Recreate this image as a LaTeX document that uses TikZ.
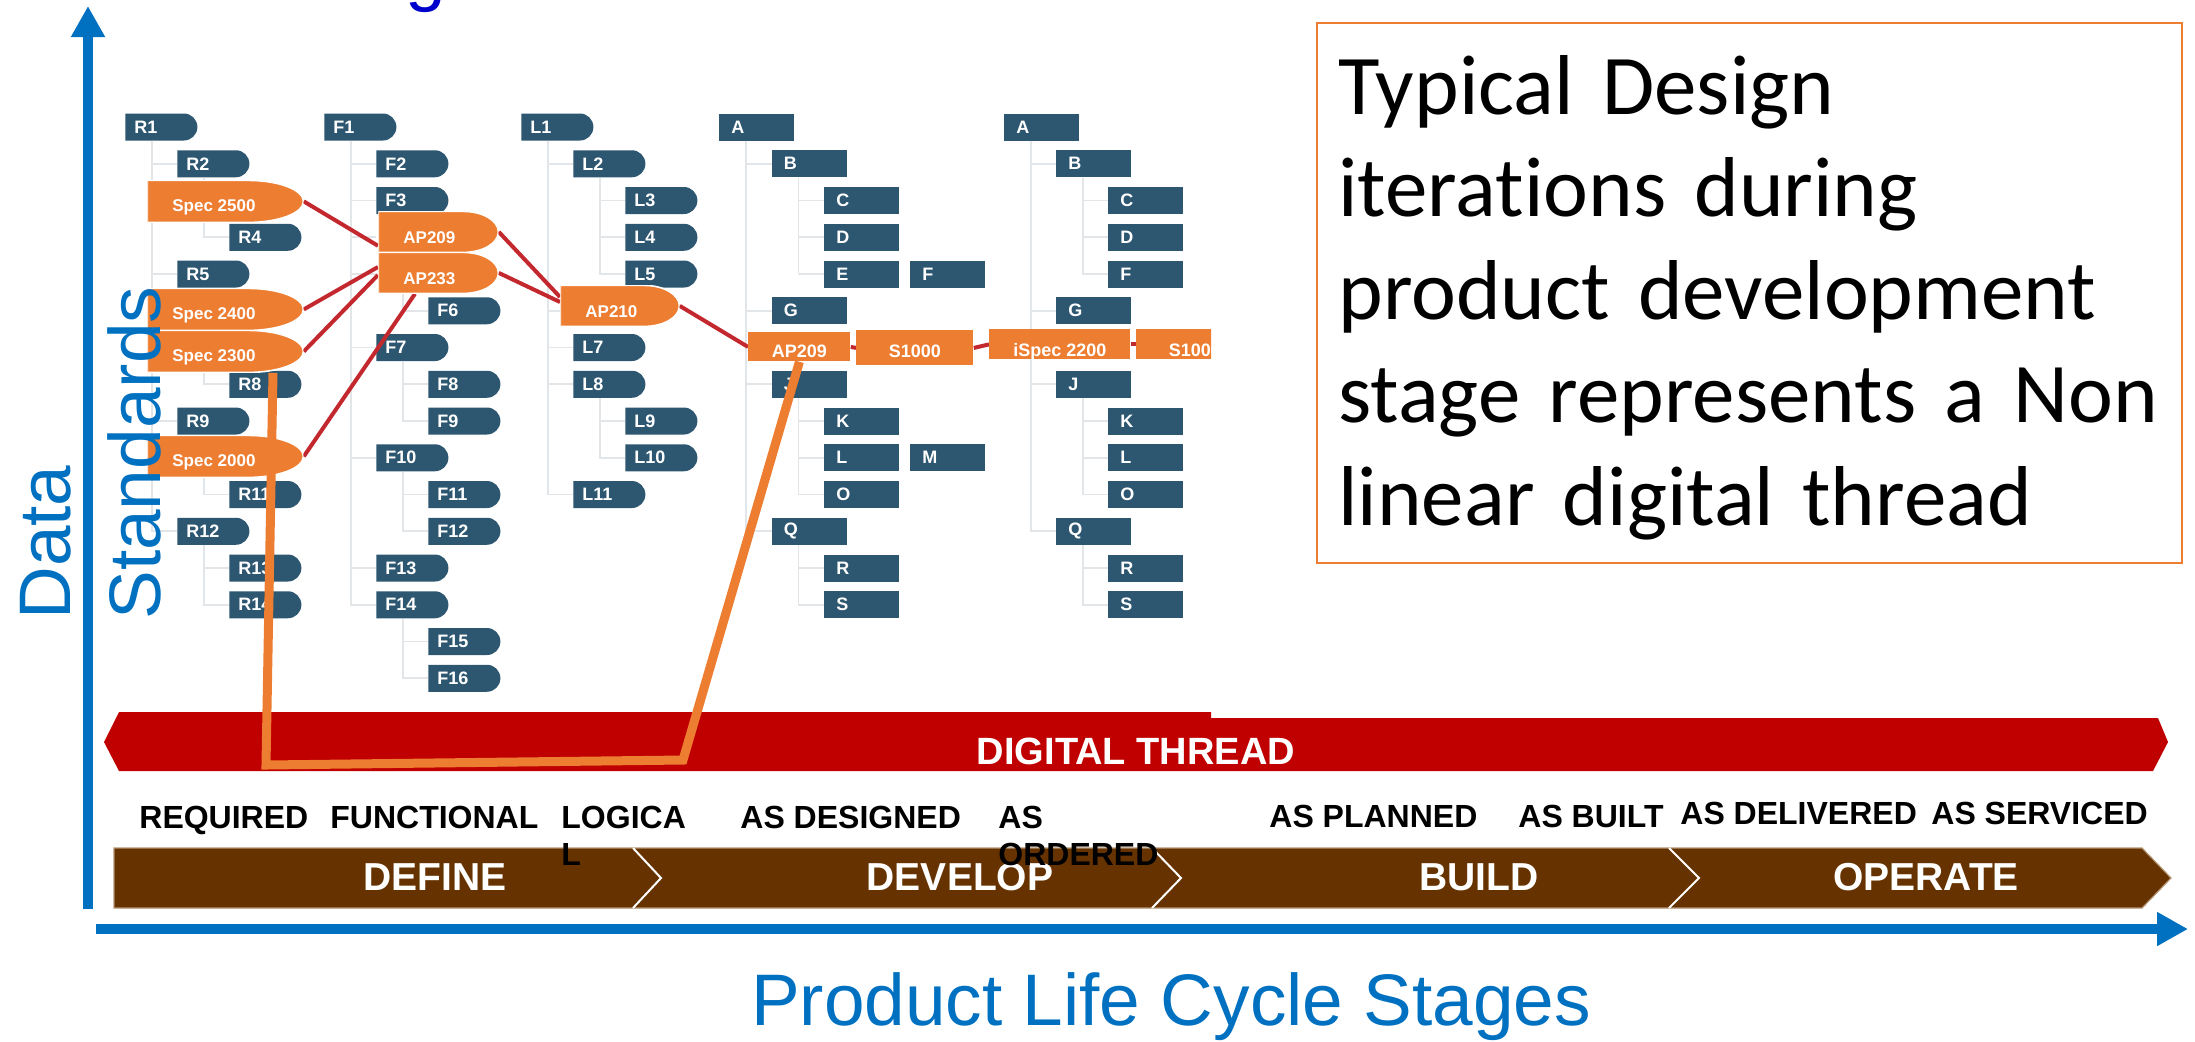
\documentclass[tikz,border=0pt]{standalone}
\usepackage{fontspec}
\setmainfont{Liberation Sans}
\newfontfamily\notefont[Ligatures=NoCommon, Contextuals=NoAlternate]{Carlito}
\usetikzlibrary{arrows.meta}

\definecolor{axisblue}{HTML}{0070C0}
\definecolor{titleblue}{HTML}{0000CC}
\definecolor{specorange}{HTML}{ED7D31}
\definecolor{treeblue}{HTML}{2D5670}
\definecolor{treeline}{HTML}{E3E6E9}
\definecolor{linkred}{HTML}{C3282E}
\definecolor{threadred}{HTML}{C00000}
\definecolor{phasebrown}{HTML}{663300}
\definecolor{phaseedge}{HTML}{B39573}

\pgfdeclarelayer{treelayer}
\pgfdeclarelayer{linklayer}
\pgfsetlayers{treelayer,linklayer,main}

\newcommand\tagtext[1]{\makebox[36pt][l]{\hspace{4.5pt}#1}}
\newcommand\boxtext[1]{\makebox[37.5pt][l]{\hspace{6pt}#1}}

\tikzset{
  tagbox/.style={rectangle, inner sep=0pt, minimum width=36pt, minimum height=13.5pt, anchor=west},
  tagnode/.style={tagbox, text=white, font=\bfseries\fontsize{9}{9}\selectfont,
    path picture={\fill[treeblue]
      (path picture bounding box.south west) -- (path picture bounding box.north west)
      -- ([xshift=-6.75pt]path picture bounding box.north east)
      arc[start angle=90, end angle=-90, radius=6.75pt] -- cycle;}},
  boxnode/.style={rectangle, inner sep=0pt, minimum width=37.5pt, minimum height=13.5pt, anchor=west,
    fill=treeblue, text=white, font=\bfseries\fontsize{9}{9}\selectfont},
  treelink/.style={treeline, line width=0.8pt},
  specnode/.style={rectangle, inner sep=0pt, anchor=north west, text=white,
    font=\bfseries\fontsize{8.5}{8.5}\selectfont, text height=15.5pt, text depth=5.5pt,
    path picture={\fill[specorange, draw=white, line width=0.8pt]
      (path picture bounding box.south west) -- (path picture bounding box.north west)
      -- ([xshift=-27.5pt]path picture bounding box.north east)
      arc[start angle=90, end angle=-90, x radius=27.5pt, y radius=10.5pt] -- cycle;}},
  apnode/.style={rectangle, inner sep=0pt, anchor=north west, text=white,
    font=\bfseries\fontsize{8.5}{8.5}\selectfont, text height=16pt, text depth=4.5pt,
    path picture={\fill[specorange, draw=white, line width=0.8pt]
      (path picture bounding box.south west) -- (path picture bounding box.north west)
      -- ([xshift=-17.5pt]path picture bounding box.north east)
      arc[start angle=90, end angle=-90, x radius=17.5pt, y radius=10.25pt] -- cycle;}},
  stdnode/.style={rectangle, inner sep=0pt, anchor=north west, fill=specorange, text=white,
    font=\bfseries\fontsize{9}{9}\selectfont},
  redlink/.style={linkred, line width=2pt},
  stagelbl/.style={anchor=base west, inner sep=0pt, font=\bfseries\fontsize{16}{18.5}\selectfont},
  phaselbl/.style={anchor=base, inner sep=0pt, text=white, font=\bfseries\fontsize{19.5}{19.5}\selectfont},
  axislbl/.style={inner sep=0pt, text=axisblue, font=\fontsize{36.5}{40}\selectfont},
  axisline/.style={axisblue, line width=5pt, -{Triangle[length=15.5pt, width=16pt]}},
}

\begin{document}
\begin{tikzpicture}[x=0.5pt, y=-0.5pt]
\clip (0,0) rectangle (2195,1041);

% heading, only its descender reaches into the frame
\node[anchor=base west, inner sep=0pt, text=titleblue, font=\fontsize{36.5}{40}\selectfont] (headg) at (405,-3) {g};

% ---------------- structure trees ----------------
\begin{pgfonlayer}{treelayer}
% requirements column
\foreach \r/\l/\t in {1/0/R1, 2/1/R2, 4/2/R4, 5/1/R5, 8/2/R8, 9/1/R9, 11/2/R11, 12/1/R12, 13/2/R13, 14/2/R14}
  \node[tagnode] (rq\r) at ({125+52*\l},{127+36.75*(\r-1)}) {\tagtext{\t}};
\foreach \r/\l in {3/2, 6/2, 7/2, 10/1}
  \node[tagbox] (rq\r) at ({125+52*\l},{127+36.75*(\r-1)}) {};
% functional column
\foreach \r/\l/\t in {1/0/F1, 2/1/F2, 3/1/F3, 6/2/F6, 7/1/F7, 8/2/F8, 9/2/F9, 10/1/F10, 11/2/F11, 12/2/F12, 13/1/F13, 14/1/F14, 15/2/F15, 16/2/F16}
  \node[tagnode] (fn\r) at ({324+52*\l},{127+36.75*(\r-1)}) {\tagtext{\t}};
\foreach \r/\l in {4/1, 5/1}
  \node[tagbox] (fn\r) at ({324+52*\l},{127+36.75*(\r-1)}) {};
% logical column
\foreach \r/\l/\t in {1/0/L1, 2/1/L2, 3/2/L3, 4/2/L4, 5/2/L5, 7/1/L7, 8/1/L8, 9/2/L9, 10/2/L10, 11/1/L11}
  \node[tagnode] (lg\r) at ({521+52*\l},{127+36.75*(\r-1)}) {\tagtext{\t}};
\node[tagbox] (lg6) at (573,{127+36.75*5}) {};
% as designed column
\foreach \r/\l/\t in {1/0/A, 2/1/B, 3/2/C, 4/2/D, 5/2/E, 6/1/G, 8/1/J, 9/2/K, 10/2/L, 11/2/O, 12/1/Q, 13/2/R, 14/2/S}
  \node[boxnode] (ds\r) at ({719+52.5*\l},{127+36.75*(\r-1)}) {\boxtext{\t}};
\node[tagbox] (ds7) at (771.5,{127+36.75*6}) {};
\node[boxnode] (dsF) at (910,{127+36.75*4}) {\boxtext{F}};
\node[boxnode] (dsM) at (910,{127+36.75*9}) {\boxtext{M}};
% as ordered column
\foreach \r/\l/\t in {1/0/A, 2/1/B, 3/2/C, 4/2/D, 5/2/F, 6/1/G, 8/1/J, 9/2/K, 10/2/L, 11/2/O, 12/1/Q, 13/2/R, 14/2/S}
  \node[boxnode] (bt\r) at ({1004+52*\l},{127+36.75*(\r-1)}) {\boxtext{\t}};
\node[tagbox] (bt7) at (1056,{127+36.75*6}) {};
% tree branches
\foreach \c/\p in {rq2/rq1, rq3/rq2, rq4/rq2, rq5/rq1, rq6/rq5, rq7/rq5, rq8/rq5, rq9/rq1, rq10/rq1, rq11/rq10, rq12/rq1, rq13/rq12, rq14/rq12,
    fn2/fn1, fn3/fn1, fn4/fn1, fn5/fn1, fn6/fn5, fn7/fn1, fn8/fn7, fn9/fn7, fn10/fn1, fn11/fn10, fn12/fn10, fn13/fn1, fn14/fn1, fn15/fn14, fn16/fn14,
    lg2/lg1, lg3/lg2, lg4/lg2, lg5/lg2, lg6/lg1, lg7/lg1, lg8/lg1, lg9/lg8, lg10/lg8, lg11/lg1,
    ds2/ds1, ds3/ds2, ds4/ds2, ds5/ds2, ds6/ds1, ds7/ds1, ds8/ds1, ds9/ds8, ds10/ds8, ds11/ds8, ds12/ds1, ds13/ds12, ds14/ds12,
    bt2/bt1, bt3/bt2, bt4/bt2, bt5/bt2, bt6/bt1, bt7/bt1, bt8/bt1, bt9/bt8, bt10/bt8, bt11/bt8, bt12/bt1, bt13/bt12, bt14/bt12}
  \draw[treelink] ([xshift=13.5pt]\p.south west) |- (\c.west);
\end{pgfonlayer}

% ---------------- standards ----------------
\node[specnode] (s2500) at (147,180) {\makebox[78pt][l]{\hspace{12.5pt}Spec 2500}};
\node[specnode] (s2400) at (147,288) {\makebox[78pt][l]{\hspace{12.5pt}Spec 2400}};
\node[specnode] (s2300) at (147,330) {\makebox[78pt][l]{\hspace{12.5pt}Spec 2300}};
\node[specnode] (s2000) at (147,435) {\makebox[78pt][l]{\hspace{12.5pt}Spec 2000}};
\node[apnode] (ap209a) at (378,211) {\makebox[60pt][l]{\hspace{12.5pt}AP209}};
\node[apnode] (ap233) at (378,252) {\makebox[60pt][l]{\hspace{12.5pt}AP233}};
\node[apnode] (ap210) at (560,285) {\makebox[59.5pt][l]{\hspace{12.5pt}AP210}};
\node[stdnode, text height=12.5pt, text depth=2pt] (ap209b) at (748,332) {\makebox[51pt]{AP209}};
\node[stdnode, text height=13.5pt, text depth=4pt] (s1000a) at (856,330) {\makebox[58.5pt]{S1000}};
\node[stdnode, text height=13.5pt, text depth=1.5pt] (ispec) at (989,329) {\makebox[70.5pt]{iSpec 2200}};
\begin{scope}
  \clip (0,0) rectangle (1211,1041);
  \node[stdnode, text height=13.5pt, text depth=1.5pt] (s1000b) at (1136,329) {\makebox[58.5pt]{S1000}};
\end{scope}

\begin{pgfonlayer}{linklayer}
\draw[redlink] (s2500.east) -- ([yshift=3.5pt]ap209a.south west);
\draw[redlink] (s2400.east) -- ([yshift=-7.5pt]ap233.north west);
\draw[redlink] (s2300.east) -- ([yshift=-11.5pt]ap233.north west);
\draw[redlink] (s2000.east) -- ([xshift=18.5pt]ap233.south west);
\draw[redlink] (ap209a.east) -- ([yshift=-6pt]ap210.north west);
\draw[redlink] (ap233.east) -- ([yshift=-8.5pt]ap210.north west);
\draw[redlink] (ap210.east) -- (ap209b.west);
\draw[redlink] (ap209b.east) -- (s1000a.west);
\draw[redlink] (s1000a.east) -- (ispec.west);
\draw[redlink] (ispec.east) -- (s1000b.west);
\end{pgfonlayer}

% ---------------- digital thread banner ----------------
\path[fill=threadred] (104,742) -- (119,712) -- (1211,712) -- (1211,718) -- (2158,718)
  -- (2168,742) -- (2153,771) -- (119,771) -- cycle;
\node[anchor=base, inner sep=0pt, text=white, font=\bfseries\fontsize{19}{19}\selectfont] (threadlbl) at (1136,764) {DIGITAL THREAD};

% ---------------- life cycle phases ----------------
\path[fill=phasebrown, draw=phaseedge, line width=0.6pt] (114,848) -- (2142,848) -- (2171,878) -- (2142,908) -- (114,908) -- cycle;
\draw[white, line width=1pt] (633,848) -- (661,878) -- (633,908);
\draw[white, line width=1pt] (1152,848) -- (1181,878) -- (1152,908);
\draw[white, line width=1pt] (1669,848) -- (1699,878) -- (1669,908);
\node[phaselbl] (define) at (435,890) {DEFINE};
\node[phaselbl] (develop) at (960,890) {DEVELOP};
\node[phaselbl] (build) at (1479,890) {BUILD};
\node[phaselbl] (operate) at (1926,890) {OPERATE};

% ---------------- stage names ----------------
\node[stagelbl] (required) at (139,828) {REQUIRED};
\node[stagelbl] (functional) at (330,828) {FUNCTIONAL};
\node[stagelbl] (logical1) at (561,828) {LOGICA};
\node[stagelbl] (logical2) at (561,865) {L};
\node[stagelbl] (designed) at (740,828) {AS DESIGNED};
\node[stagelbl] (ordered1) at (998,828) {AS};
\node[stagelbl] (ordered2) at (998,865) {ORDERED};
\node[stagelbl] (planned) at (1269,827) {AS PLANNED};
\node[stagelbl] (built) at (1518,827) {AS BUILT};
\node[stagelbl] (delivered) at (1680,824) {AS DELIVERED};
\node[stagelbl] (serviced) at (1931,824) {AS SERVICED};

% ---------------- iteration path ----------------
\coordinate (bendA) at (266,765);
\coordinate (bendB) at (683,760);
\draw[specorange, line width=4.5pt, line join=miter] ([xshift=63pt]s2300.south west) -- (bendA) -- (bendB) -- (ap209b.south);

% ---------------- axes ----------------
\coordinate (ybase) at (88,909);
\coordinate (ytip) at (88,6);
\coordinate (xbase) at (96,929);
\coordinate (xtip) at (2188,929);
\draw[axisline] (ybase) -- (ytip);
\draw[axisline] (xbase) -- (xtip);
\node[axislbl, rotate=90, anchor=base west] (datalbl) at (70,620) {Data};
\node[axislbl, rotate=90, anchor=base west] (stdlbl) at (160,620) {Standards};
\node[axislbl, anchor=base] (stagelbl) at (1171,1025) {Product Life Cycle Stages};

% ---------------- note ----------------
\node[draw=specorange, line width=1pt, rectangle, inner sep=0pt, minimum width=432.5pt,
  minimum height=270pt, anchor=north west] (notebox) at (1316,22) {};
\node[anchor=base west, inner sep=0pt, text width=420pt, align=left,
  font={\notefont\fontsize{42.5}{51.375}\selectfont\spaceskip=0.63\fontdimen2\font\relax}] (notetext) at (1338,114)
  {Typical Design\\iterations during\\product development\\stage represents a Non\\linear digital thread};
\end{tikzpicture}
\end{document}
